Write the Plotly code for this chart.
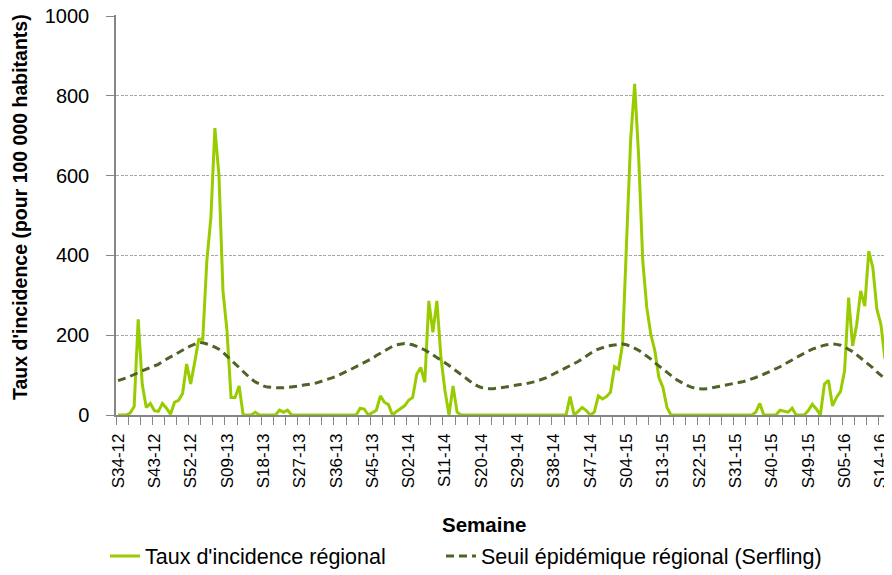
import plotly.graph_objects as go

# ---- data ----
# Weekly categories: S34-12 ... S15-16 (ISO weeks; 2015 has 53 weeks)
year_spans = [("12", 34, 52), ("13", 1, 52), ("14", 1, 52), ("15", 1, 53), ("16", 1, 15)]
weeks = [f"S{w:02d}-{y}" for (y, a, b) in year_spans for w in range(a, b + 1)]

tick_labels = ["S34-12", "S43-12", "S52-12", "S09-13", "S18-13", "S27-13", "S36-13",
               "S45-13", "S02-14", "S11-14", "S20-14", "S29-14", "S38-14", "S47-14",
               "S04-15", "S13-15", "S22-15", "S31-15", "S40-15", "S49-15", "S05-16",
               "S14-16"]

incidence = [
    0, 0, 0, 5, 21, 240, 77, 19, 29, 11,
    9, 29, 17, 2, 32, 37, 54, 128, 78, 132,
    190, 190, 386, 494, 719, 602, 311, 211, 44, 44,
    73, 0, 0, 0, 7, 0, 0, 0, 0, 0,
    12, 7, 12, 0, 0, 0, 0, 0, 0, 0,
    0, 0, 0, 0, 0, 0, 0, 0, 0, 0,
    17, 15, 0, 7, 12, 48, 32, 26, 0, 9,
    17, 23, 37, 44, 102, 119, 82, 286, 207, 286,
    144, 61, 0, 73, 7, 0, 0, 0, 0, 0,
    0, 0, 0, 0, 0, 0, 0, 0, 0, 0,
    0, 0, 0, 0, 0, 0, 0, 0, 0, 0,
    0, 0, 46, 0, 9, 19, 11, 0, 7, 48,
    40, 46, 57, 121, 115, 178, 436, 690, 830, 644,
    386, 269, 202, 161, 94, 69, 19, 0, 0, 0,
    0, 0, 0, 0, 0, 0, 0, 0, 0, 0,
    0, 0, 0, 0, 0, 0, 0, 0, 7, 29,
    0, 0, 0, 0, 12, 9, 7, 17, 0, 0,
    0, 11, 27, 15, 0, 77, 87, 23, 44, 59,
    111, 294, 173, 227, 311, 273, 411, 369, 265, 227,
    140,
]

serfling = [
    86, 89, 93, 97, 102, 107, 111, 115, 119, 123,
    127, 134, 140, 146, 152, 157, 163, 168, 173, 178,
    182, 181, 178, 175, 170, 165, 157, 148, 139, 129,
    119, 109, 99, 90, 83, 77, 73, 70, 69, 68,
    68, 68, 69, 70, 72, 73, 75, 76, 78, 80,
    83, 86, 89, 93, 97, 101, 106, 111, 116, 121,
    126, 131, 136, 142, 149, 155, 161, 167, 172, 176,
    178, 179, 178, 176, 172, 168, 163, 157, 151, 145,
    138, 131, 124, 117, 110, 102, 94, 86, 79, 73,
    69, 67, 66, 66, 67, 68, 70, 72, 74, 75,
    77, 78, 80, 83, 86, 89, 93, 98, 103, 108,
    113, 118, 123, 128, 134, 141, 148, 155, 161, 165,
    169, 172, 174, 176, 177, 178, 176, 172, 168, 162,
    155, 148, 140, 131, 123, 115, 106, 98, 91, 85,
    79, 74, 70, 67, 66, 65, 66, 68, 70, 72,
    74, 76, 78, 79, 81, 84, 87, 90, 94, 98,
    102, 106, 111, 116, 121, 126, 132, 138, 144, 150,
    155, 160, 165, 169, 172, 175, 177, 178, 177, 175,
    170, 165, 159, 151, 143, 136, 128, 118, 108, 99,
    91,
]

y_ticks = [0, 200, 400, 600, 800, 1000]

# ---- figure ----
idx = list(range(len(weeks)))
tick_pos = [weeks.index(t) for t in tick_labels]

FONT = "Liberation Sans, Arial, sans-serif"
AXIS_COL = "#868686"

# the page body has an 8px margin: work in window pixels, shifted by OFF
OFF = 8
W, H = 892 - OFF, 575 - OFF
L, R, T = 116 - OFF, 1, 15 - OFF
B = H - (415 - OFF)
PW, PH = W - L - R, H - T - B


def px(xw):
    return (xw - OFF - L) / PW


def py(yw):
    return (T + PH - (yw - OFF)) / PH


fig = go.Figure()
fig.add_trace(go.Scatter(
    x=idx, y=incidence, mode="lines", name="Taux d'incidence régional",
    line=dict(color="#99CC00", width=3), customdata=weeks, legend="legend",
    hovertemplate="%{customdata}: %{y}<extra></extra>"))
fig.add_trace(go.Scatter(
    x=idx, y=serfling, mode="lines", name="Seuil épidémique régional (Serfling)",
    line=dict(color="#4F6228", width=3, dash="8px,5px"), customdata=weeks,
    legend="legend2", hovertemplate="%{customdata}: %{y}<extra></extra>"))

leg_common = dict(orientation="h", xanchor="left", yanchor="middle", y=py(556),
                  font=dict(size=21.5, family=FONT), itemwidth=30,
                  bgcolor="rgba(0,0,0,0)")

fig.update_layout(
    width=W, height=H,
    margin=dict(l=L, r=R, t=T, b=B, autoexpand=False),
    paper_bgcolor="white", plot_bgcolor="white",
    font=dict(family=FONT, color="black"),
    showlegend=True,
    legend=dict(x=px(147 - 42), **leg_common),
    legend2=dict(x=px(483 - 42), **leg_common),
)

fig.update_xaxes(
    range=[-0.5, 191.5], tickmode="array", tickvals=tick_pos, ticktext=tick_labels,
    tickangle=-90, ticks="", tickfont=dict(size=17, family=FONT),
    ticklabelstandoff=10, automargin=False, ticklabeloverflow="allow",
    showgrid=False, zeroline=False, showline=True, linecolor=AXIS_COL, linewidth=1.5,
    minor=dict(tick0=-0.5, dtick=3, ticks="outside", ticklen=8, tickcolor=AXIS_COL,
               tickwidth=1, showgrid=False),
)
fig.update_yaxes(
    range=[0, 1002.5], tickmode="array", tickvals=y_ticks,
    tickfont=dict(size=20, family=FONT), ticks="outside", ticklen=8,
    tickcolor=AXIS_COL, ticklabelstandoff=13, automargin=False,
    ticklabeloverflow="allow",
    showgrid=True, gridcolor="#A6A6A6", griddash="3px,1.5px", gridwidth=1,
    zeroline=False, showline=True, linecolor=AXIS_COL, linewidth=1.5,
)

fig.add_annotation(
    text="<b>Taux d'incidence (pour 100 000 habitants)</b>", textangle=-90,
    xref="paper", yref="paper", x=px(20), y=py(207),
    xanchor="center", yanchor="middle", showarrow=False,
    font=dict(size=19.5, family=FONT, color="black"))
fig.add_annotation(
    text="<b>Semaine</b>", xref="paper", yref="paper",
    x=px(484), y=py(524), xanchor="center", yanchor="middle",
    showarrow=False, font=dict(size=20.5, family=FONT, color="black"))

fig.write_html("out.html")
